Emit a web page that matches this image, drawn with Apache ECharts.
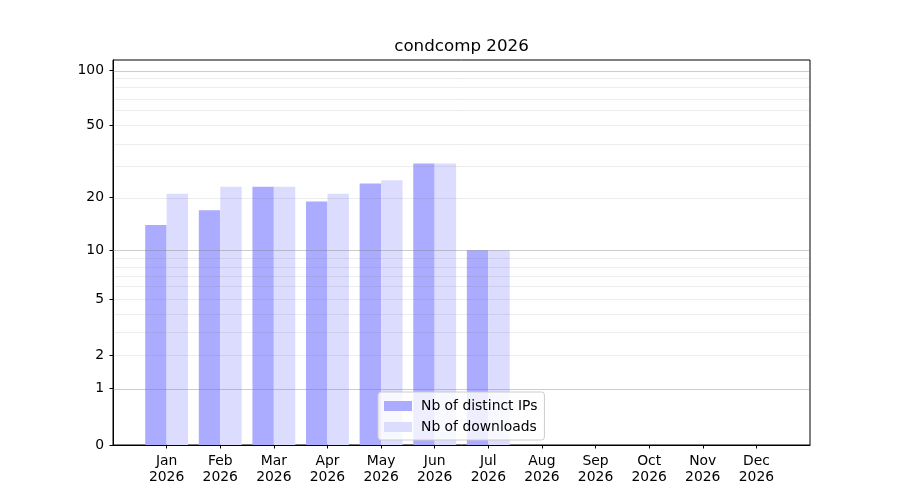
<!DOCTYPE html>
<html>
<head>
<meta charset="utf-8">
<script src="https://cdn.jsdelivr.net/npm/echarts@6/dist/echarts.min.js"></script>
<style>html,body{margin:0;padding:0;background:#fff}#c{width:900px;height:500px}</style>
</head>
<body>
<div id="c"></div>
<script>
const title = 'condcomp 2026';
const months = ['Jan','Feb','Mar','Apr','May','Jun','Jul','Aug','Sep','Oct','Nov','Dec'];
const year = '2026';
const distinctIPs = [14, 17, 23, 19, 24, 31, 10];
const downloads = [21, 23, 23, 21, 25, 31, 10];
const yTickLabels = [0, 1, 2, 5, 10, 20, 50, 100];
const majorGrid = [1, 10, 100];
const minorGrid = [2, 3, 4, 5, 6, 7, 8, 9, 20, 30, 40, 50, 60, 70, 80, 90];
const yTop = 113.2;

const f = v => Math.log10(1 + v);
const FONT = 'DejaVu Sans';

const chart = echarts.init(document.getElementById('c'), null, {renderer: 'canvas'});

const gridLines = [];
minorGrid.forEach(v => gridLines.push({yAxis: f(v), lineStyle: {color: 'rgba(128,128,128,0.15)', width: 1, type: 'solid'}}));
majorGrid.forEach(v => gridLines.push({yAxis: f(v), lineStyle: {color: 'rgba(128,128,128,0.4)', width: 1, type: 'solid'}}));

chart.setOption({
  animation: false,
  backgroundColor: '#fff',
  title: {
    text: title, left: 461.5, top: 38, padding: 0, textAlign: 'center',
    textStyle: {fontFamily: FONT, fontSize: 16.7, fontWeight: 'normal', color: '#000'}
  },
  grid: {left: 113, right: 90, top: 60, bottom: 55, show: true, borderColor: '#000', borderWidth: 1, backgroundColor: 'transparent'},
  legend: {
    data: ['Nb of distinct IPs', 'Nb of downloads'],
    orient: 'vertical', left: 378, top: 392,
    itemWidth: 28, itemHeight: 10, itemGap: 7,
    padding: [7, 7, 6, 6],
    borderColor: '#cccccc', borderWidth: 1, borderRadius: 3,
    backgroundColor: 'rgba(255,255,255,0.8)',
    icon: 'rect',
    textStyle: {fontFamily: FONT, fontSize: 13.9, color: '#000', padding: [0, 0, 0, 4]}
  },
  xAxis: {
    type: 'value', min: -1, max: 12,
    axisLine: {show: true, onZero: false, lineStyle: {color: '#000', width: 1}},
    axisTick: {show: true, length: 3.5, lineStyle: {color: '#000'}, customValues: months.map((m, i) => i)},
    axisLabel: {
      show: true, margin: 8, customValues: months.map((m, i) => i),
      fontFamily: FONT, fontSize: 13.9, color: '#000', lineHeight: 16,
      formatter: v => months[Math.round(v)] + '\n' + year
    },
    splitLine: {show: false}
  },
  yAxis: {
    type: 'value', min: 0, max: f(yTop),
    axisLine: {show: true, onZero: false, lineStyle: {color: '#000', width: 1}},
    axisTick: {show: true, length: 3.5, lineStyle: {color: '#000'}, customValues: yTickLabels.map(f)},
    axisLabel: {
      show: true, margin: 9, customValues: yTickLabels.map(f),
      fontFamily: FONT, fontSize: 13.9, color: '#000',
      formatter: v => {
        let best = yTickLabels[0], d = Infinity;
        yTickLabels.forEach(t => { const dd = Math.abs(f(t) - v); if (dd < d) { d = dd; best = t; } });
        return String(best);
      }
    },
    splitLine: {show: false}
  },
  series: [
    {
      name: 'Nb of distinct IPs', type: 'bar', barWidth: 21.4, barGap: '-100%',
      itemStyle: {color: '#ababff'},
      data: distinctIPs.map((v, i) => [i - 0.2, f(v)])
    },
    {
      name: 'Nb of downloads', type: 'bar', barWidth: 21.4, barGap: '-100%',
      itemStyle: {color: '#dcdcff'},
      data: downloads.map((v, i) => [i + 0.2, f(v)])
    },
    {
      name: 'grid', type: 'line', data: [], z: 5, silent: true,
      markLine: {silent: true, symbol: ['none', 'none'], label: {show: false}, animation: false, data: gridLines}
    }
  ]
});
</script>
</body>
</html>
